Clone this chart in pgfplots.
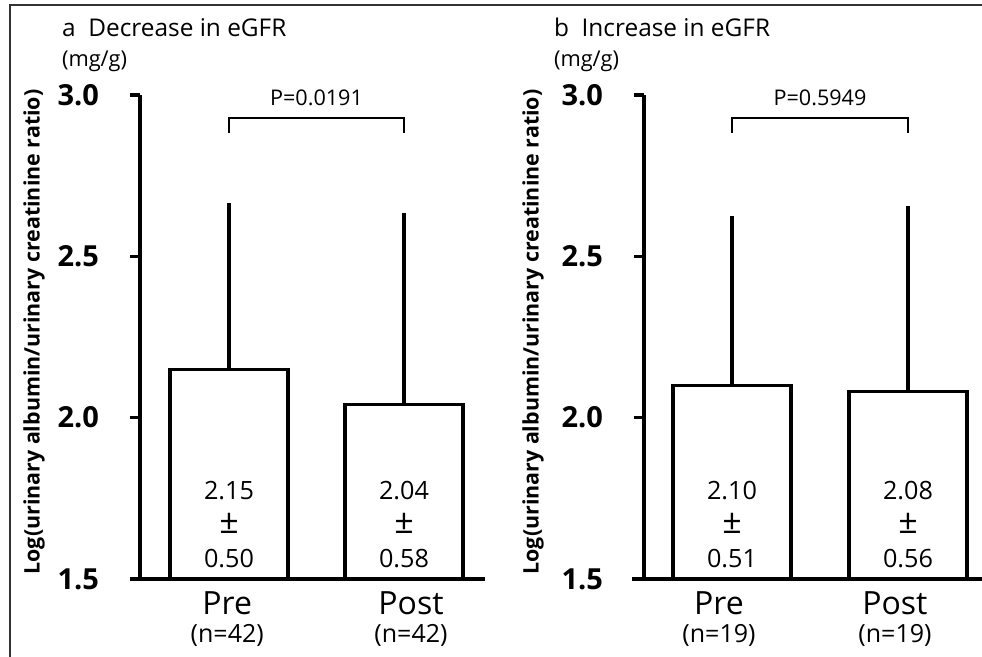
\documentclass[border=0pt]{standalone}
\usepackage{fontspec}
\setmainfont{Open Sans}
\usepackage{pgfplots}
\pgfplotsset{compat=1.18}
\tikzset{intext/.style={font=\fontsize{12.6}{14}\selectfont, anchor=base},
 pm/.style={font=\fontsize{17}{18}\selectfont, anchor=base}}
\begin{document}
\begin{tikzpicture}[x=1pt,y=1pt]
\draw[line width=1pt, black!80] (5pt,0pt) -- (5pt,326pt) -- (491pt,326pt);
\pgfplotsset{
 panel/.style={
  scale only axis, height=242pt, ymin=1.5, ymax=3.0,
  axis x line=bottom, axis y line=left,
  x axis line style={line width=2pt,-},
  y axis line style={line width=1.6pt,-},
  xtick=\empty,
  ytick={1.5,2.0,2.5,3.0}, yticklabels={1.5,2.0,2.5,3.0},
  yticklabel style={font=\fontsize{14.5}{16}\selectfont\bfseries, xshift=-12pt},
  tick align=outside, major tick length=5pt,
  ytick style={line width=1.6pt, black},
  clip mode=individual,
  ybar, bar width=59pt, bar shift=0pt,
  error bars/y dir=plus, error bars/y explicit,
  error bars/error bar style={line width=1.6pt, black},
  error bars/error mark options={line width=2pt, mark size=2.5pt, black},
 },
 barplot/.style={draw=black, fill=white, line width=1.6pt},
}
% Panel a
\begin{axis}[panel, at={(70pt,39pt)}, anchor=south west, width=172.5pt, xmin=-0.5086, xmax=1.4629]
\addplot[barplot] coordinates {(0,2.15) +- (0,0.50) (1,2.04) +- (0,0.58)};
\node[intext] at (axis cs:0,1.745) {2.15};
\node[pm] at (axis cs:0,1.64) {±};
\node[intext] at (axis cs:0,1.537) {0.50};
\node[intext] at (axis cs:1,1.745) {2.04};
\node[pm] at (axis cs:1,1.64) {±};
\node[intext] at (axis cs:1,1.537) {0.58};
\draw[line width=0.9pt] (axis cs:0,2.882) -- (axis cs:0,2.929) -- (axis cs:1,2.929) -- (axis cs:1,2.882);
\node[font=\fontsize{10.8}{12}\selectfont] at (axis cs:0.5,2.992) {P=0.0191};
\node[font=\fontsize{16}{18}\selectfont, anchor=base, yshift=-18pt] at (axis cs:-0.01,1.5) {Pre};
\node[font=\fontsize{16}{18}\selectfont, anchor=base, yshift=-18pt] at (axis cs:1.04,1.5) {Post};
\node[font=\fontsize{12.5}{14}\selectfont, anchor=base, yshift=-32pt] at (axis cs:-0.01,1.5) {(n=42)};
\node[font=\fontsize{12.5}{14}\selectfont, anchor=base, yshift=-32pt] at (axis cs:1.04,1.5) {(n=42)};
\draw[line width=2pt] (axis cs:-0.566,1.5) -- (axis cs:-0.5086,1.5);
\end{axis}
% Panel b
\begin{axis}[panel, at={(322pt,39pt)}, anchor=south west, width=169pt, xmin=-0.5, xmax=1.4205]
\addplot[barplot] coordinates {(0,2.10) +- (0,0.51) (1,2.08) +- (0,0.56)};
\node[intext] at (axis cs:0,1.745) {2.10};
\node[pm] at (axis cs:0,1.64) {±};
\node[intext] at (axis cs:0,1.537) {0.51};
\node[intext] at (axis cs:1,1.745) {2.08};
\node[pm] at (axis cs:1,1.64) {±};
\node[intext] at (axis cs:1,1.537) {0.56};
\draw[line width=0.9pt] (axis cs:0,2.882) -- (axis cs:0,2.929) -- (axis cs:1,2.929) -- (axis cs:1,2.882);
\node[font=\fontsize{10.8}{12}\selectfont] at (axis cs:0.5,2.992) {P=0.5949};
\node[font=\fontsize{16}{18}\selectfont, anchor=base, yshift=-18pt] at (axis cs:-0.074,1.5) {Pre};
\node[font=\fontsize{16}{18}\selectfont, anchor=base, yshift=-18pt] at (axis cs:0.926,1.5) {Post};
\node[font=\fontsize{12.5}{14}\selectfont, anchor=base, yshift=-32pt] at (axis cs:-0.074,1.5) {(n=19)};
\node[font=\fontsize{12.5}{14}\selectfont, anchor=base, yshift=-32pt] at (axis cs:0.926,1.5) {(n=19)};
\draw[line width=2pt] (axis cs:-0.568,1.5) -- (axis cs:-0.5,1.5);
\end{axis}
% titles and y labels
\node[anchor=base west, font=\fontsize{12.2}{14}\selectfont] at (27.5pt,310pt) {a\ \ Decrease in eGFR};
\node[anchor=base west, font=\fontsize{10.9}{12}\selectfont] at (27.5pt,295pt) {(mg/g)};
\node[anchor=base west, font=\fontsize{12.2}{14}\selectfont] at (273.5pt,310pt) {b\ \ Increase in eGFR};
\node[anchor=base west, font=\fontsize{10.9}{12}\selectfont] at (273.5pt,295pt) {(mg/g)};
\node[rotate=90, font=\fontsize{10.7}{12}\selectfont\bfseries] at (17pt,162.5pt) {Log(urinary albumin/urinary creatinine ratio)};
\node[rotate=90, font=\fontsize{10.7}{12}\selectfont\bfseries] at (266.5pt,162.5pt) {Log(urinary albumin/urinary creatinine ratio)};
\pgfresetboundingbox
\path[use as bounding box] (0pt,0pt) rectangle (491pt,328.5pt);
\end{tikzpicture}
\end{document}
